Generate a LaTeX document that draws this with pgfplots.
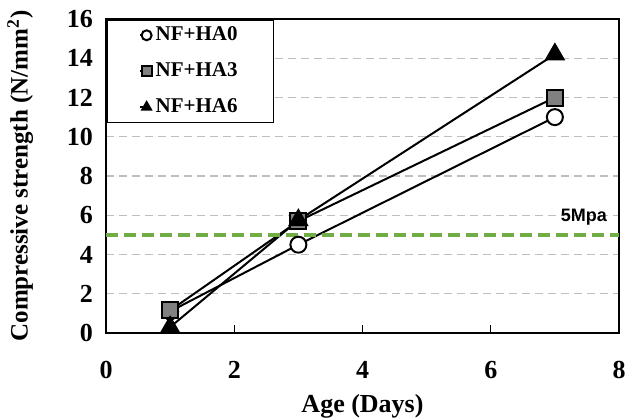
\documentclass[border=0pt]{standalone}
\usepackage{pgfplots}
\pgfplotsset{compat=1.18}
\usetikzlibrary{calc}
\usepackage{fontspec}
\setmainfont{Liberation Serif}
\newfontfamily\labsans{Liberation Sans}
\definecolor{gridgray}{RGB}{190,190,190}
\definecolor{limgreen}{RGB}{112,173,71}
\definecolor{sqgray}{RGB}{128,128,128}
\begin{document}
\begin{tikzpicture}
\begin{axis}[
  scale only axis,
  width=256.5pt, height=157pt,
  xmin=0, xmax=8, ymin=0, ymax=16,
  xtick={0,2,4,6,8}, ytick={0,2,...,16},
  tick align=inside,
  xtick pos=bottom, ytick pos=left,
  major tick length=4pt,
  y tick style={draw=none},
  x tick style={black, line width=0.6pt},
  axis line style={line width=0.8pt},
  ymajorgrids,
  grid style={gridgray, dashed, line width=0.6pt, dash pattern=on 4pt off 2.5pt},
  /pgf/number format/assume math mode=true,
  ticklabel style={font=\fontsize{13}{15}\selectfont\bfseries},
  xticklabel style={yshift=-10.5pt},
  yticklabel style={xshift=-3pt},
  xlabel={Age (Days)},
  ylabel={Compressive strength (N/mm\textsuperscript{2})},
  label style={font=\fontsize{13}{15}\selectfont\bfseries},
  ylabel style={font=\fontsize{12.5}{15}\selectfont\bfseries, yshift=10pt},
  xlabel style={yshift=-1pt},
  legend style={at={(rel axis cs:0,1)}, anchor=north west, draw=black, line width=0.8pt,
    font=\fontsize{10.5}{12}\selectfont\bfseries, row sep=5.5pt, inner xsep=16pt, inner ysep=1.5pt,
    cells={anchor=west}, /tikz/every even column/.append style={column sep=0pt}},
  legend image code/.code={\draw[mark repeat=2,mark phase=2, mark size=2.5pt] plot coordinates {(0cm,0cm) (0.12cm,0cm)};},
  legend cell align=left,
]
\addplot[black, line width=1pt, mark=*, mark size=4pt, mark options={fill=white, line width=1pt}]
  coordinates {(1,1.1) (3,4.5) (7,11.0)};
\addlegendentry{NF+HA0}
\addplot[black, line width=1pt, mark=square*, mark size=4pt, mark options={fill=sqgray, line width=1pt}]
  coordinates {(1,1.15) (3,5.7) (7,12.0)};
\addlegendentry{NF+HA3}
\addplot[black, line width=1pt, mark=triangle*, mark size=5pt, mark options={fill=black}]
  coordinates {(1,0.3) (3,5.75) (7,14.2)};
\addlegendentry{NF+HA6}
\addplot[limgreen, line width=2pt, dash pattern=on 6pt off 3pt, forget plot] coordinates {(0,5) (8,5)};
\node[anchor=south east, font=\labsans\fontsize{9}{11}\selectfont\bfseries, inner sep=1pt] at (axis cs:7.85,5.35) {5Mpa};
\coordinate (bl) at (rel axis cs:0,0);
\coordinate (tr) at (rel axis cs:1,1);
\end{axis}
\pgfresetboundingbox
\path ($(bl)+(-53pt,-43pt)$) rectangle ($(tr)+(3.5pt,9.5pt)$);
\end{tikzpicture}
\end{document}
